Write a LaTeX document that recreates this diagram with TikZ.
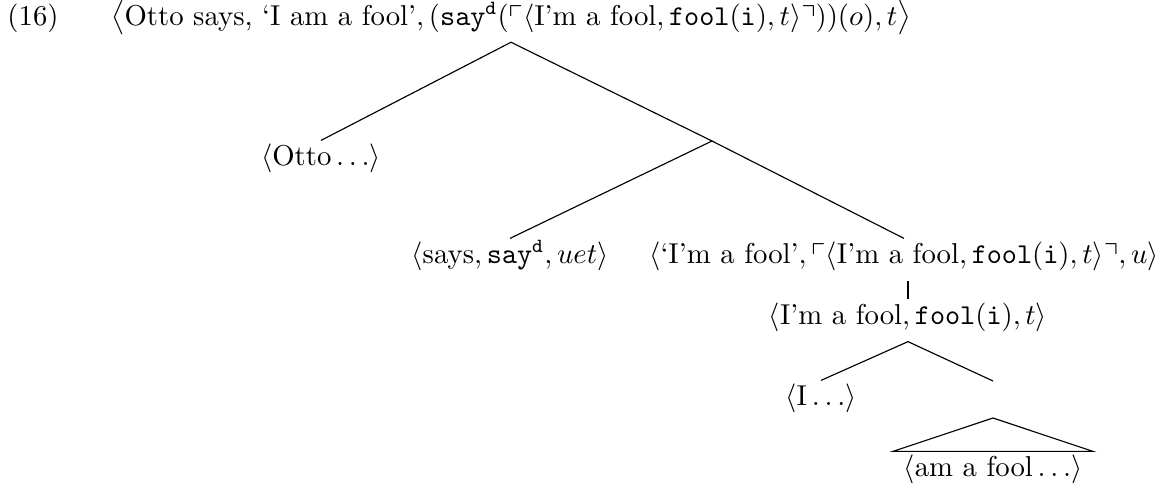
\documentclass[tikz,border=0pt]{standalone}
\usepackage{amsmath}
\usepackage{amssymb}

\begin{document}
\begin{tikzpicture}
    [x=0.348pt, y=-0.348pt,
     lbl/.style={inner xsep=0pt, inner ysep=1pt, text height=7.5pt, text depth=4.8pt, anchor=base},
     roof/.style={lbl, inner xsep=3.5pt}]
    \useasboundingbox (0,0) rectangle (1176,492);
    % example number
    \node[lbl] (num) at (33,25) {(16)};
    % root
    \node[lbl] (root) at (511,25) {$\big\langle\text{Otto says, `I am a fool'}, (\mathtt{say}^{\mathtt{d}}(\ulcorner\langle\text{I'm a fool}, \mathtt{fool}(\mathtt{i}), t\rangle\urcorner))(o), t\big\rangle$};
    %daughters of the root
    \node[lbl] (otto) at (321,165.4) {$\langle\text{Otto}\ldots\rangle$};
    \coordinate (vp) at (712,141);
    \node[lbl] (says) at (510,263.4) {$\langle\text{says}, \mathtt{say}^{\mathtt{d}}, uet\rangle$};
    \node[lbl] (quote) at (904,263.4) {$\langle\text{`I'm a fool'}, \ulcorner\langle\text{I'm a fool}, \mathtt{fool}(\mathtt{i}), t\rangle\urcorner, u\rangle$};
    %quoted sentence
    \node[lbl] (inner) at (908,324.4) {$\langle\text{I'm a fool}, \mathtt{fool}(\mathtt{i}), t\rangle$};
    \node[lbl] (subj) at (821,405.4) {$\langle\text{I}\ldots\rangle$};
    \coordinate (vp2) at (993,381);
    \coordinate (apex) at (993,418);
    \node[roof] (pred) at (993,476.4) {$\langle\text{am a fool}\ldots\rangle$};
    %branches
    \draw (root.south)--(otto.north);
    \draw (root.south)--(vp);
    \draw (vp)--(says.north);
    \draw (vp)--(quote.north);
    \draw (inner.north)--(inner.north |- quote.south);
    \draw (inner.south)--(subj.north);
    \draw (inner.south)--(vp2);
    %roof
    \draw (apex)--(pred.north west)--(pred.north east)--cycle;
\end{tikzpicture}
\end{document}
